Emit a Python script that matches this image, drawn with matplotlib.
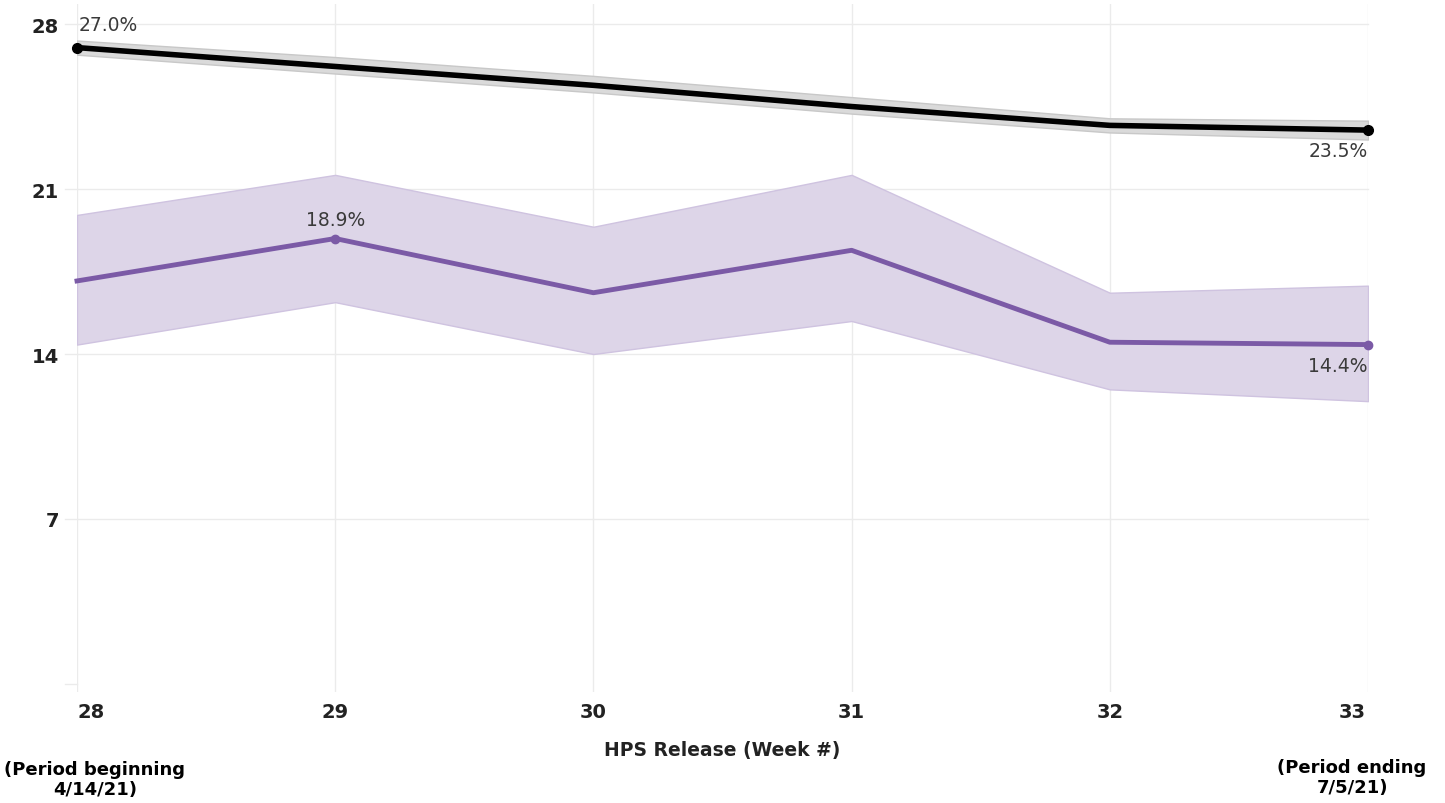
import matplotlib
matplotlib.use("Agg")
import matplotlib.pyplot as plt
from matplotlib.transforms import ScaledTranslation

# HPS release weeks
weeks = [28, 29, 30, 31, 32, 33]

# Overall series (black) with confidence band
overall = [27.0, 26.2, 25.4, 24.5, 23.7, 23.5]
overall_lo = [26.7, 25.9, 25.1, 24.2, 23.4, 23.1]
overall_hi = [27.3, 26.6, 25.8, 24.9, 24.0, 23.9]

# Subgroup series (purple) with confidence band
group = [17.1, 18.9, 16.6, 18.4, 14.5, 14.4]
group_lo = [14.4, 16.2, 14.0, 15.4, 12.5, 12.0]
group_hi = [19.9, 21.6, 19.4, 21.6, 16.6, 16.9]

y_ticks = [7, 14, 21, 28]

PURPLE = "#7B5AA6"
PURPLE_BAND = "#DDD5E8"
GRAY_BAND = "#DADADA"
TEXT = "#222222"
LABEL = "#3a3a3a"

plt.rcParams["font.family"] = ["DejaVu Sans"]

fig = plt.figure(figsize=(14.45, 8.04), dpi=100)
ax = fig.add_axes([77 / 1445, 1 - 693 / 804, (1368 - 77) / 1445, (693 - 5) / 804])

ax.set_xlim(28, 33)
ax.set_ylim(-0.34, 28.85)

# grid
for w in weeks:
    ax.axvline(w, color="#EBEBEB", lw=1, zorder=0)
for t in [0] + y_ticks:
    ax.axhline(t, color="#EBEBEB", lw=1, zorder=0, xmin=-0.0093,
               xmax=(0 if t == 0 else 1), clip_on=False)

# bands
ax.fill_between(weeks, group_lo, group_hi, color=PURPLE_BAND, edgecolor="#CFC3E0",
                lw=1, zorder=1)
ax.fill_between(weeks, overall_lo, overall_hi, color=GRAY_BAND, edgecolor="#C8C8C8",
                lw=1, zorder=1)

# lines
ax.plot(weeks, group, color=PURPLE, lw=3.5, zorder=3, solid_joinstyle="round",
        clip_on=False)
ax.plot([weeks[1], weeks[-1]], [group[1], group[-1]], "o", color=PURPLE, ms=6,
        zorder=4, clip_on=False)
ax.plot(weeks, overall, color="black", lw=4, zorder=3, solid_joinstyle="round",
        clip_on=False)
ax.plot([weeks[0], weeks[-1]], [overall[0], overall[-1]], "o", color="black", ms=7,
        zorder=4, clip_on=False)

# value labels
lab_kw = dict(fontsize=13.5, color=LABEL, zorder=5)
ax.annotate(f"{overall[0]:.1f}%", (weeks[0], overall[0]), xytext=(1, 10),
            textcoords="offset points", ha="left", va="bottom", **lab_kw)
ax.annotate(f"{overall[-1]:.1f}%", (weeks[-1], overall[-1]), xytext=(0, -8),
            textcoords="offset points", ha="right", va="top", **lab_kw)
ax.annotate(f"{group[1]:.1f}%", (weeks[1], group[1]), xytext=(0, 7),
            textcoords="offset points", ha="center", va="bottom", **lab_kw)
ax.annotate(f"{group[-1]:.1f}%", (weeks[-1], group[-1]), xytext=(0, -8),
            textcoords="offset points", ha="right", va="top", **lab_kw)

# axes styling
for s in ax.spines.values():
    s.set_visible(False)
ax.set_xticks(weeks)
ax.set_xticklabels([str(w) for w in weeks], fontsize=14, fontweight="bold", color=TEXT)
ax.set_yticks(y_ticks)
ax.set_yticklabels([str(t) for t in y_ticks], fontsize=14, fontweight="bold", color=TEXT)
ax.tick_params(axis="both", length=0)
ax.tick_params(axis="x", pad=7)
ax.tick_params(axis="y", pad=13)

# keep the end labels inside the plotting width
xlabels = ax.get_xticklabels()
xlabels[0].set_transform(xlabels[0].get_transform()
                         + ScaledTranslation(14 / 100, 0, fig.dpi_scale_trans))
xlabels[-1].set_transform(xlabels[-1].get_transform()
                          + ScaledTranslation(-16 / 100, 0, fig.dpi_scale_trans))

fig.text(722 / 1445, 1 - 751 / 804, "HPS Release (Week #)", ha="center", va="center",
         fontsize=13.5, fontweight="bold", color=TEXT)
fig.text(95 / 1445, 1 - 780 / 804, "(Period beginning\n4/14/21)", ha="center",
         va="center", fontsize=13, fontweight="bold", color="black", linespacing=1.15)
fig.text(1352 / 1445, 1 - 778 / 804, "(Period ending\n7/5/21)", ha="center",
         va="center", fontsize=13, fontweight="bold", color="black", linespacing=1.15)

fig.savefig("out.png", dpi=100, facecolor="white")
